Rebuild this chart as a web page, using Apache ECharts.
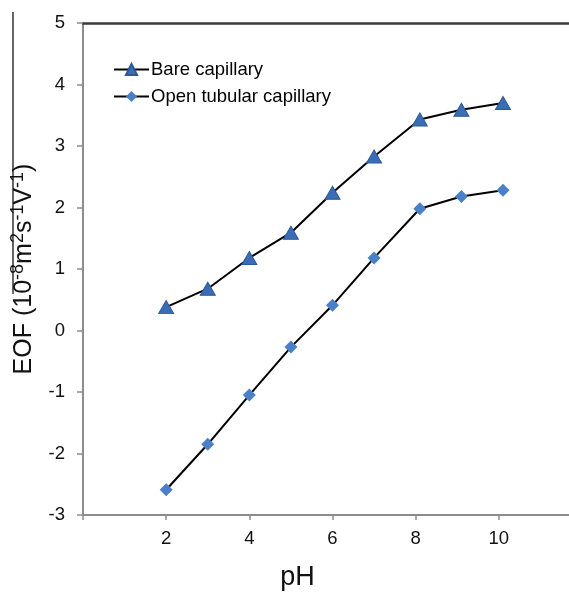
<!DOCTYPE html>
<html><head><meta charset="utf-8">
<script src="https://cdn.jsdelivr.net/npm/echarts@6/dist/echarts.min.js"></script>
<style>html,body{margin:0;padding:0;background:#fff}#c{width:569px;height:592px}</style>
</head><body><div id="c"></div>
<script>
const pH = [2, 3, 4, 5, 6, 7, 8.1, 9.1, 10.1];
const bareCapillary = [0.38, 0.68, 1.18, 1.59, 2.24, 2.83, 3.43, 3.59, 3.70];
const openTubular = [-2.59, -1.85, -1.05, -0.27, 0.41, 1.18, 1.98, 2.18, 2.28];
const seriesNames = ['Bare capillary', 'Open tubular capillary'];
const xTitle = 'pH';
const yTitleRich = '{b|EOF (10}{s|-8}{b|m}{s|2}{b|s}{s|-1}{b|V}{s|-1}{b|)}';

const chart = echarts.init(document.getElementById('c'));
const font = 'Liberation Sans, Arial, sans-serif';
chart.setOption({
  animation: false,
  grid: {left: 83, top: 23, width: 499, height: 492, outerBoundsMode: 'none', containLabel: false},
  legend: {
    orient: 'vertical', left: 113, top: 60, padding: 0, itemWidth: 35, itemHeight: 14, itemGap: 8,
    textStyle: {fontFamily: font, fontSize: 18.5, color: '#000', padding: [0,0,0,-3]},
    data: seriesNames
  },
  xAxis: [{
    type: 'value', min: 0, max: 12, interval: 2,
    axisLine: {onZero: false, lineStyle: {color: '#8c8c8c', width: 2}},
    axisTick: {show: true, length: 5, lineStyle: {color: '#8c8c8c', width: 1.5}},
    axisLabel: {fontFamily: font, fontSize: 18.5, color: '#111', margin: 14,
      formatter: v => (v === 0 || v === 12) ? '' : String(v)},
    splitLine: {show: false},
    name: xTitle, nameLocation: 'middle', nameGap: 49,
    nameTextStyle: {fontFamily: font, fontSize: 27, color: '#111', padding: [0, 70, 0, 0]}
  }, {
    type: 'value', min: 0, max: 12, position: 'top',
    axisLine: {show: true, onZero: false, lineStyle: {color: '#3a3a3a', width: 2.5}},
    axisTick: {show: false}, axisLabel: {show: false}, splitLine: {show: false}
  }],
  yAxis: {
    type: 'value', min: -3, max: 5, interval: 1,
    axisLine: {show: true, onZero: false, lineStyle: {color: '#8c8c8c', width: 2}},
    axisTick: {show: true, length: 6, lineStyle: {color: '#8c8c8c', width: 1.5}},
    axisLabel: {fontFamily: font, fontSize: 18.5, color: '#111', margin: 18},
    splitLine: {show: false},
    name: yTitleRich, nameLocation: 'middle', nameGap: 46,
    nameTextStyle: {
      fontFamily: font, color: '#111', padding: [0, 0, 0, 0],
      rich: {
        b: {fontFamily: font, fontSize: 25, color: '#111', lineHeight: 28, verticalAlign: 'bottom'},
        s: {fontFamily: font, fontSize: 18, color: '#111', lineHeight: 28, verticalAlign: 'top'}
      }
    }
  },
  graphic: [{
    type: 'line', shape: {x1: 13, y1: 12, x2: 13, y2: 294},
    style: {stroke: '#333', lineWidth: 1.5}
  }],
  series: [{
    name: seriesNames[0], type: 'line',
    data: pH.map((x, i) => [x, bareCapillary[i]]),
    symbol: 'triangle', symbolSize: [15, 13],
    lineStyle: {color: '#000', width: 2},
    itemStyle: {color: '#3a6db5', borderColor: '#2a5a9a', borderWidth: 1}
  }, {
    name: seriesNames[1], type: 'line',
    data: pH.map((x, i) => [x, openTubular[i]]),
    symbol: 'diamond', symbolSize: [13, 13],
    lineStyle: {color: '#000', width: 2},
    itemStyle: {color: '#4a80c8', borderColor: '#4a80c8', borderWidth: 0}
  }]
});
</script></body></html>
